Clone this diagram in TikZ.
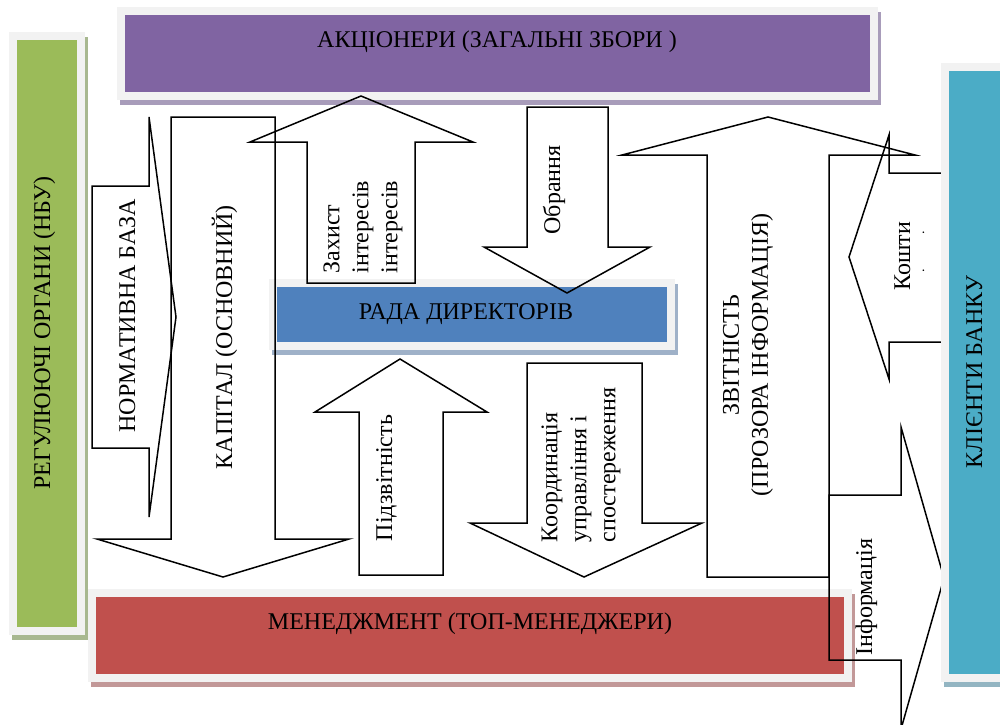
\documentclass[tikz,border=0pt]{standalone}
\usepackage{fontspec}
\setmainfont{Liberation Serif}
\usepackage{xcolor}
\definecolor{purp}{HTML}{8064A2}
\definecolor{grn}{HTML}{9BBB59}
\definecolor{rd}{HTML}{C0504D}
\definecolor{blu}{HTML}{4F81BD}
\definecolor{teal}{HTML}{4BACC6}
\definecolor{frm}{HTML}{F2F2F2}
\definecolor{purpsh}{HTML}{A89CBA}
\definecolor{grnsh}{HTML}{A8B890}
\definecolor{rdsh}{HTML}{C29898}
\definecolor{blush}{HTML}{9FB1C8}
\definecolor{tealsh}{HTML}{93B5C2}
\usetikzlibrary{positioning}

\begin{document}
\begin{tikzpicture}[x=1pt,y=-1pt,
  lbl/.style={font=\fontsize{24}{29}\selectfont,inner sep=0pt,anchor=base},
  vlbl/.style={lbl,rotate=90},
  blk/.style={font=\fontsize{24}{29}\selectfont,inner sep=0pt,rotate=90},
  bx/.style={draw=frm,line width=8pt,outer sep=0pt,inner sep=0pt},
  sh/.style={preaction={draw=#1,fill=#1,line width=8pt,transform canvas={shift={(3pt,-5pt)}}}},
  arr/.style={draw,line width=1.5pt,line join=miter}]
  \useasboundingbox (0,0) rectangle (1000,724);
  % boxes
  \node[bx,sh=purpsh,fill=purp,minimum width=753pt,minimum height=85pt] (aksh) at (497.5,53.5) {};
  \node[bx,sh=grnsh,fill=grn,minimum width=68pt,minimum height=595pt] (reg) at (47,333.5) {};
  \node[bx,sh=rdsh,fill=rd,minimum width=756pt,minimum height=85pt] (men) at (470,635.5) {};
  \node[bx,sh=blush,fill=blu,minimum width=398pt,minimum height=63pt] (rada) at (472,314.5) {};
  \node[lbl] (taksh) at (497,47) {АКЦІОНЕРИ (ЗАГАЛЬНІ ЗБОРИ )};
  \node[vlbl] (treg) at (50,333) {РЕГУЛЮЮЧІ ОРГАНИ (НБУ)};
  \node[lbl] (tmen) at (470,629) {МЕНЕДЖМЕНТ (ТОП-МЕНЕДЖЕРИ)};
  \node[lbl] (trada) at (466,319) {РАДА ДИРЕКТОРІВ};
  % block arrows
  \draw[arr] (92,186) -- (149,186) -- (149,117) -- (176,317) -- (149,517) -- (149,448) -- (92,448) -- cycle;
  \draw[arr] (171,117) -- (275,117) -- (275,539) -- (349,539) -- (223,577) -- (97,539) -- (171,539) -- cycle;
  \draw[arr] (307,283) -- (307,142) -- (250,142) -- (361,96) -- (473,142) -- (415,142) -- (415,283) -- cycle;
  \draw[arr] (527,107) -- (608,107) -- (608,247) -- (650,247) -- (567,293) -- (484,247) -- (527,247) -- cycle;
  \draw[arr] (359,575) -- (359,412) -- (315,412) -- (400,359) -- (487,412) -- (443,412) -- (443,575) -- cycle;
  \draw[arr] (527,363) -- (642,363) -- (642,523) -- (702,523) -- (584,577) -- (470,523) -- (527,523) -- cycle;
  \draw[arr] (707,577) -- (707,155) -- (622,155) -- (768,117) -- (915,155) -- (829,155) -- (829,577) -- cycle;
  \draw[arr] (944,173) -- (889,173) -- (889,135) -- (849,257) -- (889,379) -- (889,342) -- (944,342);
  \draw[arr] (829,495) -- (901,495) -- (901,427) -- (944,578) -- (901,729) -- (901,660) -- (829,660) -- cycle;
  \node[vlbl] (tnorm) at (135,316) {НОРМАТИВНА БАЗА};
  \node[vlbl] (tkap) at (232,337) {КАПІТАЛ (ОСНОВНИЙ)};
  \node[blk,align=left] (tzah) at (363,227) {Захист\\інтересів\\інтересів};
  \node[vlbl] (tobr) at (560,190) {Обрання};
  \node[vlbl] (tpidz) at (392,478) {Підзвітність};
  \node[blk,align=left] (tkoord) at (581,465) {Координація\\управління і\\спостереження};
  \node[blk,align=center] (tzvit) at (748,355) {ЗВІТНІСТЬ\\(ПРОЗОРА ІНФОРМАЦІЯ)};
  \node[vlbl] (tkosh) at (910,256) {Кошти};
  \node[vlbl,font=\fontsize{14}{16}\selectfont] (tdots) at (924,251.5) {.\hspace{35pt}.};
  \node[vlbl] (tinf) at (872,597) {Інформація};
  % clients
  \node[bx,sh=tealsh,fill=teal,minimum width=74pt,minimum height=611pt] (kl) at (982,372.5) {};
  \node[vlbl] (tkl) at (982,372) {КЛІЄНТИ БАНКУ};
\end{tikzpicture}
\end{document}
